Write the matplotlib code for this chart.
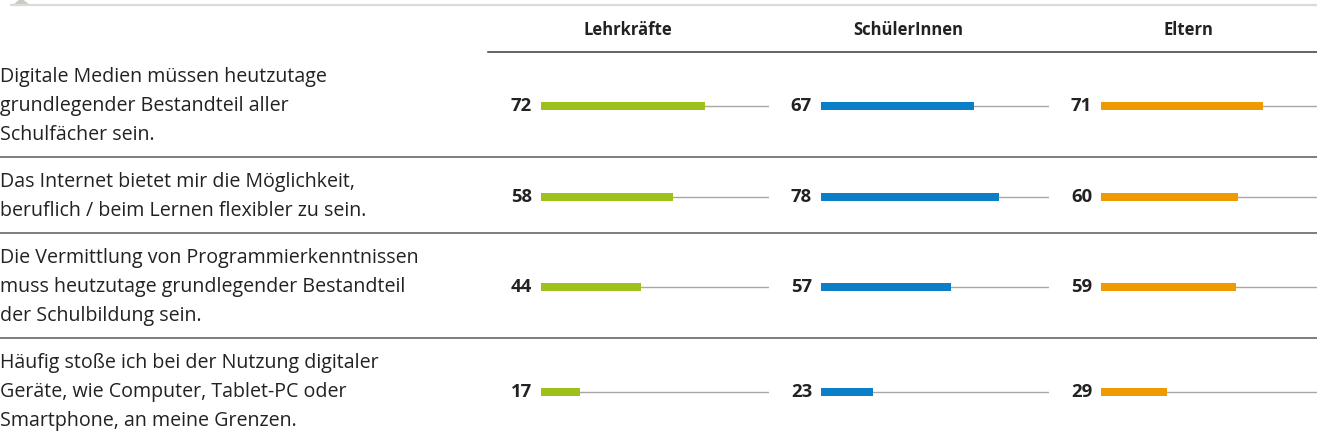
import matplotlib
matplotlib.use("Agg")
import matplotlib.pyplot as plt
from matplotlib.patches import Polygon

# Daten (Zustimmung in Prozent)
gruppen = ["Lehrkräfte", "SchülerInnen", "Eltern"]
aussagen = [
    ["Digitale Medien müssen heutzutage",
     "grundlegender Bestandteil aller",
     "Schulfächer sein."],
    ["Das Internet bietet mir die Möglichkeit,",
     "beruflich / beim Lernen flexibler zu sein."],
    ["Die Vermittlung von Programmierkenntnissen",
     "muss heutzutage grundlegender Bestandteil",
     "der Schulbildung sein."],
    ["Häufig stoße ich bei der Nutzung digitaler",
     "Geräte, wie Computer, Tablet-PC oder",
     "Smartphone, an meine Grenzen."],
]
lehrkraefte = [72, 58, 44, 17]
schueler = [67, 78, 57, 23]
eltern = [71, 60, 59, 29]
werte = [lehrkraefte, schueler, eltern]
farben = ["#9dc11a", "#0a7fc8", "#ee9a00"]

W, H = 1317, 446
plt.rcParams["font.family"] = ["Open Sans", "DejaVu Sans"]

fig = plt.figure(figsize=(W / 100, H / 100), dpi=100)
ax0 = fig.add_axes([0, 0, 1, 1])
ax0.set_xlim(0, W)
ax0.set_ylim(H, 0)
ax0.axis("off")

# zeilen-layout (pixel)
zeilen_abst = 29
kopf = 52
grenzen = [kopf]
for a in aussagen:
    grenzen.append(grenzen[-1] + len(a) * zeilen_abst + 18)
mitten = [(grenzen[i] + grenzen[i + 1]) / 2 + 1.5 for i in range(len(aussagen))]

# oberer rand mit dreieck
ax0.plot([10, W], [5, 5], color="#dcdad7", lw=1.6, solid_capstyle="butt")
ax0.add_patch(Polygon([[13, 5], [21, -2], [30, 5]], closed=True,
                      color="#cdc9c4", lw=0))

# trennlinien
ax0.plot([488, W], [kopf, kopf], color="#3a3a3a", lw=1.1)
for g in grenzen[1:-1]:
    ax0.plot([0, W], [g, g], color="#5a5a5a", lw=1.1)

# aussagen
for a, m in zip(aussagen, mitten):
    for i, zeile in enumerate(a):
        y = m + (i - (len(a) - 1) / 2) * zeilen_abst
        ax0.text(0, y, zeile, fontsize=14.1, color="#222222",
                 va="center", ha="left")

# balken je gruppe
x0, breite, abstand = 541, 228, 280
for k, (name, vals, farbe) in enumerate(zip(gruppen, werte, farben)):
    left = x0 + k * abstand
    ax = fig.add_axes([left / W, 0, breite / W, 1])
    ax.set_xlim(0, 100)
    ax.set_ylim(H, 0)
    ax.axis("off")
    ax.hlines(mitten, 0, 100, color="#aba7a1", lw=1.0, zorder=1)
    ax.barh(mitten, vals, height=8, color=farbe, edgecolor="none", zorder=3)
    for m, v in zip(mitten, vals):
        ax.text(-3.9, m, str(v), ha="right", va="center",
                fontsize=13.3, fontweight="bold", color="#222222")
    ax.text(38.2, 30, name, ha="center", va="center",
            fontsize=12, fontweight="bold", color="#222222")

fig.savefig("out.png", dpi=100)
